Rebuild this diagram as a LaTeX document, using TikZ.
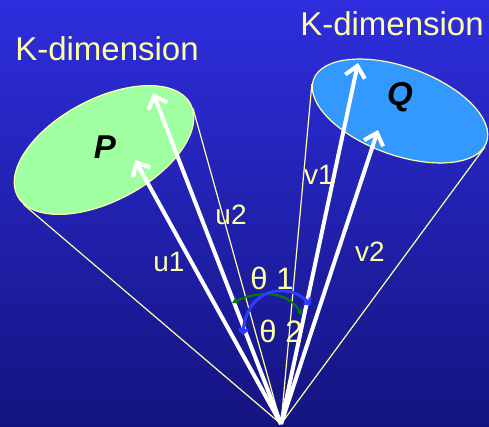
\documentclass[tikz,border=0pt]{standalone}
\usepackage{fontspec}
\setmainfont{Liberation Sans}
\usetikzlibrary{shapes.geometric,arrows.meta}
\definecolor{lyel}{RGB}{255,255,170}
\definecolor{bgtop}{RGB}{46,46,222}
\definecolor{bgbot}{RGB}{20,20,128}
\definecolor{pgreen}{RGB}{160,255,160}
\definecolor{qblue}{RGB}{51,153,255}
\definecolor{arcgreen}{RGB}{0,128,0}
\definecolor{arcblue}{RGB}{45,60,255}

\begin{document}
\begin{tikzpicture}[x=1pt,y=1pt,
  vec/.style={white,line width=4pt,-{Straight Barb[length=11pt,width=20pt]}},
  rim/.style={lyel,line width=1.2pt},
  set/.style={ellipse,draw=lyel,line width=1.2pt,inner sep=0pt},
  lab/.style={text=lyel,inner sep=0pt,font=\fontsize{28}{30}\selectfont},
  ttl/.style={text=lyel,inner sep=0pt,font=\fontsize{33}{36}\selectfont},
  nm/.style={inner sep=0pt,font=\fontsize{33}{36}\selectfont\bfseries\itshape}]
\shade[top color=bgtop,bottom color=bgbot] (0,0) rectangle (489,426);
\useasboundingbox (0,0) rectangle (489,426);
\coordinate (O) at (281,2);
\coordinate (u1) at (135,266); \coordinate (u2) at (153,333); \coordinate (v1) at (358,363); \coordinate (v2) at (378,296);
\node[set,fill=pgreen,rotate=28,minimum width=196pt,minimum height=102pt] (P) at (104,276) {};
\node[set,fill=qblue,rotate=-20,minimum width=184pt,minimum height=88pt] (Q) at (400,315) {};
\draw[rim] (O)--(P.186); \draw[rim] (O)--(P.-3.4);
\draw[rim] (O)--(Q.183.4); \draw[rim] (O)--(Q.-3.8);
\node[nm] (Pname) at (105,279) {P};
\node[nm] (Qname) at (400,329) {Q};
\draw[vec] (O)--(u1); \draw[vec] (O)--(u2); \draw[vec] (O)--(v1); \draw[vec] (O)--(v2);
\coordinate (gl) at (232,123); \coordinate (gr) at (302,111);
\coordinate (bl) at (243,91); \coordinate (br) at (311,121);
\draw[arcgreen,line width=2pt,{Stealth[length=6pt,width=7pt]}-{Stealth[length=6pt,width=7pt]}] (gl) .. controls (250,132) and (285,140) .. (gr);
\draw[arcblue,line width=3pt,{Straight Barb[length=4pt,width=9pt]}-{Straight Barb[length=4pt,width=9pt]}] (bl) .. controls (246,138) and (288,145) .. (br);
\node[ttl] (kleft) at (107,377) {K-dimension};
\node[ttl] (kright) at (392,402) {K-dimension};
\node[lab] (lu1) at (169,164) {u1};
\node[lab] (lu2) at (231,211) {u2};
\node[lab] (lv1) at (319,251) {v1};
\node[lab] (lv2) at (370,174) {v2};
\node[lab,font=\fontsize{31}{33}\selectfont] (th1) at (272,148) {θ 1};
\node[lab,font=\fontsize{31}{33}\selectfont] (th2) at (281,95) {θ 2};
\end{tikzpicture}
\end{document}
